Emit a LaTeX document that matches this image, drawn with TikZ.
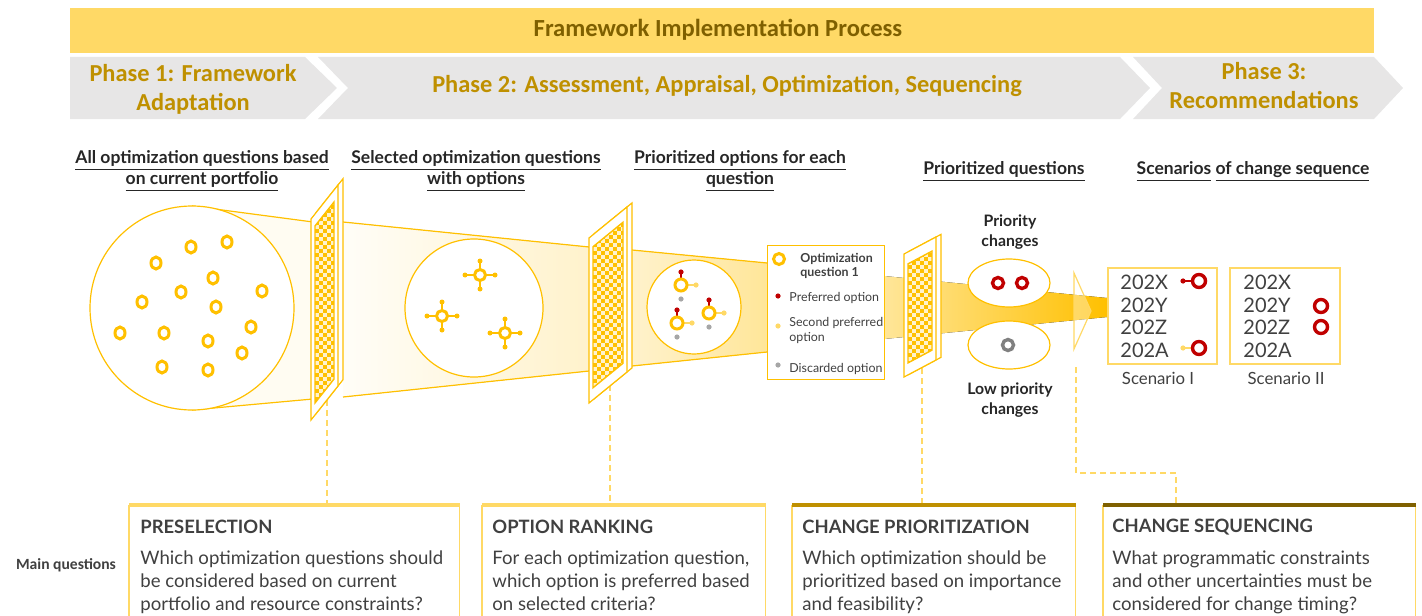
\documentclass[tikz,border=0pt]{standalone}
\usepackage{fontspec}
\setmainfont{Lato}
\newfontfamily\carlito{Carlito}
\usetikzlibrary{positioning}

\definecolor{gold}{HTML}{FFC000}
\definecolor{gold40}{HTML}{FFD966}
\definecolor{gold60}{HTML}{FFE699}
\definecolor{gold80}{HTML}{FFF2CC}
\definecolor{golddark}{HTML}{BF9000}
\definecolor{phaseolive}{HTML}{7F6000}
\definecolor{chevgray}{HTML}{E7E6E6}
\definecolor{ink}{HTML}{404040}
\definecolor{inkdark}{HTML}{262626}
\definecolor{prefred}{HTML}{C00000}
\definecolor{discgray}{HTML}{A6A6A6}
\definecolor{ringgray}{HTML}{808080}

\newcommand\hdl[1]{\underline{#1\vphantom{gpq}}}

% filter panel: left x, top-left y, width, rise, height
\newcommand\filterpanel[5]{%
  \begin{scope}[shift={(#1,#2)},yslant=#4/#3]
    \draw[panelframe] (5,0) rectangle (#3+5,#5);
    \draw[panelframe] (0,0) rectangle (#3,#5);
  \end{scope}
  \begin{scope}
    \clip[shift={(#1,#2)},yslant=#4/#3] (4,12) rectangle (#3-4,#5-12);
    \fill[gold80] (#1,#2-#4) rectangle (#1+#3,#2+#5);
    \foreach \i in {0,...,10} {
      \pgfmathtruncatemacro\off{mod(\i,2)}
      \foreach \j in {0,2,...,64}
        \fill[gold] (#1+4*\i,#2-#4+4*\j+4*\off) rectangle +(4,4);
    }
  \end{scope}
  \draw[gold,line width=0.7pt,shift={(#1,#2)},yslant=#4/#3] (4,12) rectangle (#3-4,#5-12);}

% question with four open options
\newcommand\openq[2]{%
  \draw[gold,line width=0.7pt] (#1-15,#2) -- (#1+15,#2) (#1,#2-14) -- (#1,#2+14);
  \fill[gold] (#1-15,#2) circle [radius=2.5] (#1+15,#2) circle [radius=2.5]
              (#1,#2-14) circle [radius=2.5] (#1,#2+14) circle [radius=2.5];
  \draw[qring,fill=white] (#1,#2) circle [radius=5.5];}

% question with ranked options
\newcommand\rankedq[2]{%
  \draw[prefred,line width=0.7pt] (#1,#2-13) -- (#1,#2-6);
  \draw[gold40,line width=0.7pt] (#1+6,#2) -- (#1+15,#2);
  \fill[prefred] (#1,#2-13) circle [radius=2.6];
  \fill[gold40] (#1+15,#2) circle [radius=2.6];
  \fill[discgray] (#1,#2+14) circle [radius=2.6];
  \draw[qring,fill=white] (#1,#2) circle [radius=6];}

\begin{document}
\begin{tikzpicture}[x=0.5pt,y=-0.5pt,
  phase/.style={font=\carlito\bfseries\fontsize{12.2}{14.5}\selectfont, text=golddark, align=center, inner sep=0pt},
  colhead/.style={font=\bfseries\fontsize{8.75}{10.5}\selectfont, text=inkdark, align=center, inner sep=0pt},
  panelframe/.style={draw=gold, fill=white, line width=0.6pt},
  qring/.style={draw=gold, line width=1.5pt},
  redring/.style={draw=prefred, line width=1.7pt},
  edge/.style={gold, line width=0.6pt},
  legtext/.style={font=\fontsize{6.2}{7.5}\selectfont, text=ink, anchor=west, align=left, inner sep=0pt},
  year/.style={font=\fontsize{10}{11}\selectfont, text=ink, anchor=west, inner sep=0pt},
  scbox/.style={draw=gold40, line width=1pt, minimum width=54.5pt, minimum height=48pt, anchor=north west, inner sep=0pt},
  qbox/.style={minimum height=55pt, anchor=north west, inner sep=0pt},
  qhead/.style={font=\bfseries\fontsize{9.2}{10}\selectfont, text=ink, anchor=west, inner sep=0pt},
  qbody/.style={font=\fontsize{9.3}{11.6}\selectfont, text=ink, anchor=north west, align=left, inner sep=0pt},
  link/.style={gold40, line width=0.7pt, dash pattern=on 3pt off 2pt}]

\useasboundingbox (0,0) rectangle (1422,615);

% banner and phases
\fill[gold40] (70,8) rectangle (1374,53);
\node[font=\carlito\bfseries\fontsize{12.3}{14}\selectfont, text=phaseolive] (title) at (718,30) {Framework Implementation Process};
\fill[chevgray] (70,57) -- (305,57) -- (337,88) -- (305,119) -- (70,119) -- cycle;
\fill[chevgray] (318,57) -- (1120,57) -- (1150,88) -- (1120,119) -- (318,119) -- (348,88) -- cycle;
\fill[chevgray] (1133,57) -- (1374,57) -- (1403,88) -- (1374,119) -- (1133,119) -- (1162,88) -- cycle;
\node[phase] (ph1) at (193,89) {Phase 1: Framework\\Adaptation};
\node[phase] (ph2) at (727,86) {Phase 2: Assessment, Appraisal, Optimization, Sequencing};
\node[phase] (ph3) at (1264,86) {Phase 3:\\Recommendations};

% column headings
\node[colhead] (h1) at (202,171) {\hdl{All optimization questions based}\\\hdl{on current portfolio}};
\node[colhead] (h2) at (476,171) {\hdl{Selected optimization questions}\\\hdl{with options}};
\node[colhead] (h3) at (740,171) {\hdl{Prioritized options for each}\\\hdl{question}};
\node[colhead] (h4) at (1004,172) {\hdl{Prioritized questions}};
\node[colhead] (h5) at (1253,172) {\hdl{Scenarios} \hdl{of change sequence}};

% funnel bands
\fill[gold80!25] (192,206) -- (313,222) -- (313,399) -- (192,410) -- cycle;
\draw[edge] (192,206) -- (313,222) (192,410) -- (313,399);
\fill[left color=gold80!15, right color=gold80] (343,222) -- (589,247) -- (589,371) -- (343,397) -- cycle;
\draw[edge] (343,222) -- (589,247) (343,397) -- (589,371);
\fill[left color=gold80, right color=gold60] (632,250) -- (767,263) -- (767,352) -- (632,366) -- cycle;
\draw[edge] (632,250) -- (767,263) (632,366) -- (767,352);
\fill[left color=gold60, right color=gold] (884,276) -- (1107,298) -- (1107,317) -- (884,339) -- cycle;

% dashed links to the question boxes
\coordinate (p1b) at (327,400);
\coordinate (p2b) at (610,385);
\coordinate (p3b) at (922,368);
\coordinate (arb) at (1076,367);
\coordinate (turn) at (1176,473);

% bottom question boxes
\node[qbox, minimum width=165pt] (pre) at (129,505) {};
\node[qbox, minimum width=141.5pt] (rank) at (482,505) {};
\node[qbox, minimum width=141.5pt] (prio) at (792,505) {};
\node[qbox, minimum width=156pt] (seq) at (1103,505) {};

\draw[link] (p1b) -- (p1b |- pre.north);
\draw[link] (p2b) -- (p2b |- rank.north);
\draw[link] (p3b) -- (p3b |- prio.north);
\draw[link] (arb) |- (turn) -- (turn |- seq.north);

% circles of questions
\draw[edge,fill=white] (192,308) circle [radius=102];
\foreach \qx/\qy in {156/263,191/247,227/242,213/278,181/292,262/291,142/302,216/307,
                    120/333,164/333,251/327,208/341,242/353,162/367,208/370}
  \draw[qring] (\qx,\qy) ellipse [x radius=5, y radius=6];

\draw[edge,fill=white] (474,308) circle [radius=69];
\openq{480}{275}
\openq{442}{316}
\openq{505}{333}

\draw[edge,fill=white] (694,307) circle [radius=47];
\rankedq{681}{285}
\rankedq{677}{323}
\rankedq{709}{313}

% legend
\node[draw=gold, fill=white, line width=0.7pt, minimum width=58.5pt, minimum height=67pt,
      anchor=north west, inner sep=0pt] (leg) at (767,245) {};
\draw[qring] (779,259) circle [radius=5.5];
\node[legtext, font=\bfseries\fontsize{6.2}{7}\selectfont] (lq) at (800,266) {Optimization\\question 1};
\fill[prefred] (778,296) circle [radius=2.6];
\node[legtext] (lp) at (789,298) {Preferred option};
\fill[gold40] (778,326) circle [radius=2.6];
\node[legtext] (ls) at (789,330) {Second preferred\\option};
\fill[discgray] (778,365) circle [radius=2.6];
\node[legtext] (ld) at (789,369) {Discarded option};

% filter panels
\filterpanel{311}{219}{27}{34}{201}
\filterpanel{589}{238}{38}{31}{165}
\filterpanel{904}{254}{32}{17}{123}

% priority split
\draw[edge,fill=white] (1009,283) ellipse [x radius=41, y radius=24];
\draw[edge,fill=white] (1009,345) ellipse [x radius=41, y radius=24];
\draw[redring] (998,283) circle [radius=5.5];
\draw[redring] (1022,283) circle [radius=5.5];
\draw[draw=ringgray, line width=1.7pt] (1008,345) circle [radius=5.5];
\node[colhead, font=\bfseries\fontsize{7.9}{10}\selectfont] (hi) at (1010,232) {Priority\\changes};
\node[colhead, font=\bfseries\fontsize{7.9}{10}\selectfont] (lo) at (1010,400) {Low priority\\changes};

% arrow into scenarios
\draw[draw=gold40, fill=white, fill opacity=0.35, line width=0.6pt] (1074,273) -- (1091,311) -- (1074,349) -- cycle;

% scenarios
\node[scbox] (scA) at (1107,267) {};
\node[scbox, minimum width=55pt] (scB) at (1229,267) {};
\foreach \yr/\yy in {202X/282,202Y/305,202Z/327,202A/350} {
  \node[year] at (1120,\yy) {\yr};
  \node[year] at (1243,\yy) {\yr};
}
\draw[prefred, line width=0.7pt] (1183,281) -- (1192,281);
\fill[prefred] (1183,281) circle [radius=2.6];
\draw[gold40, line width=0.7pt] (1183,348) -- (1192,348);
\fill[gold40] (1183,348) circle [radius=2.6];
\draw[redring] (1199,281) circle [radius=6.5];
\draw[redring] (1199,348) circle [radius=6.5];
\draw[redring] (1321,306) circle [radius=6.5];
\draw[redring] (1321,327) circle [radius=6.5];
\node[font=\fontsize{8.4}{9}\selectfont, text=ink] (sc1) at (1158,378) {Scenario I};
\node[font=\fontsize{8.4}{9}\selectfont, text=ink] (sc2) at (1286,378) {Scenario II};

% question boxes
\foreach \bx/\bc in {pre/gold40,rank/gold40,prio/golddark,seq/phaseolive} {
  \draw[gold40, line width=0.6pt] (\bx.north west) -- (\bx.south west) (\bx.north east) -- (\bx.south east);
  \draw[\bc, line width=2.3pt] (\bx.north west) -- (\bx.north east);
}
\node[font=\carlito\bfseries\fontsize{7.8}{9}\selectfont, text=ink] (mq) at (66,565) {Main questions};

\node[qhead] at (140,527) {PRESELECTION};
\node[qbody] at (140,550) {Which optimization questions should\\be considered based on current\\portfolio and resource constraints?};
\node[qhead] at (492,527) {OPTION RANKING};
\node[qbody] at (492,550) {For each optimization question,\\which option is preferred based\\on selected criteria?};
\node[qhead] at (802,527) {CHANGE PRIORITIZATION};
\node[qbody] at (802,550) {Which optimization should be\\prioritized based on importance\\and feasibility?};
\node[qhead] at (1112,527) {CHANGE SEQUENCING};
\node[qbody] at (1112,550) {What programmatic constraints\\and other uncertainties must be\\considered for change timing?};
\end{tikzpicture}
\end{document}
